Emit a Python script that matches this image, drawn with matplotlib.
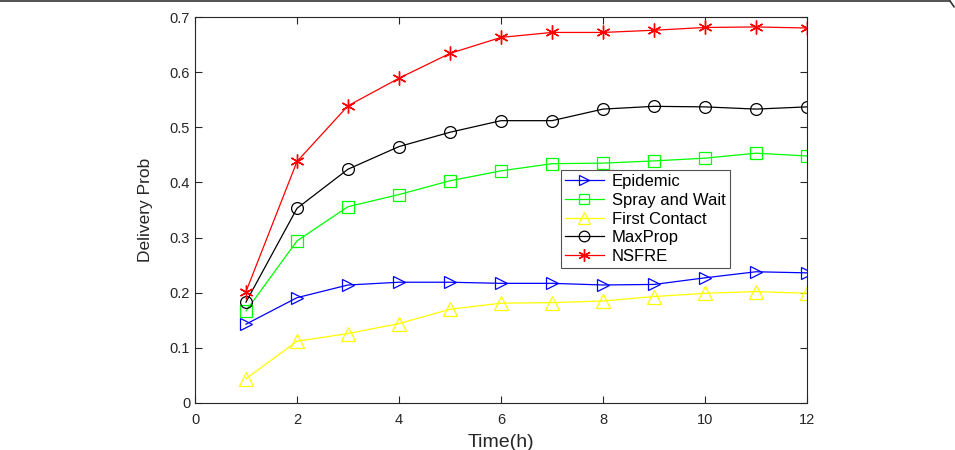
import numpy as np
import matplotlib.pyplot as plt
from matplotlib.lines import Line2D

plt.rcParams['font.family'] = ['Liberation Sans', 'DejaVu Sans']

time_h = [1, 2, 3, 4, 5, 6, 7, 8, 9, 10, 11, 12]

epidemic = [0.143, 0.191, 0.214, 0.219, 0.219, 0.217, 0.217, 0.214, 0.215, 0.227, 0.238, 0.236]
spray_wait = [0.167, 0.294, 0.356, 0.378, 0.403, 0.421, 0.434, 0.435, 0.439, 0.444, 0.453, 0.448]
first_contact = [0.044, 0.112, 0.126, 0.144, 0.170, 0.181, 0.182, 0.185, 0.193, 0.199, 0.202, 0.199]
maxprop = [0.183, 0.353, 0.424, 0.465, 0.491, 0.512, 0.512, 0.533, 0.538, 0.537, 0.533, 0.537]
nsfre = [0.202, 0.438, 0.539, 0.589, 0.634, 0.663, 0.672, 0.672, 0.676, 0.681, 0.682, 0.680]

series = [
    ("Epidemic", epidemic, "#0000ff", ">"),
    ("Spray and Wait", spray_wait, "#00ff00", "s"),
    ("First Contact", first_contact, "#ffff00", "^"),
    ("MaxProp", maxprop, "#000000", "o"),
    ("NSFRE", nsfre, "#ff0000", "*"),
]

fig = plt.figure(figsize=(9.55, 4.5), dpi=100)
ax = fig.add_axes([195 / 955, 47 / 450, 612 / 955, 386 / 450])

for name, vals, col, mk in series:
    if mk == "*":
        # matlab style asterisk
        ax.plot(time_h, vals, "-", color=col, lw=0.9, label=name,
                marker=(6, 2, 0), markersize=10, markeredgewidth=1.0,
                markerfacecolor="none", markeredgecolor=col)
    else:
        ax.plot(time_h, vals, "-", color=col, lw=0.9, label=name,
                marker=mk, markersize=8.5 if mk != "^" else 10,
                markerfacecolor="none", markeredgecolor=col, markeredgewidth=0.9)

ax.set_xlim(0, 12)
ax.set_ylim(0, 0.7)
ax.set_xticks(np.arange(0, 13, 2))
ax.set_yticks(np.arange(0, 0.71, 0.1))
ax.set_yticklabels(["0", "0.1", "0.2", "0.3", "0.4", "0.5", "0.6", "0.7"])
ax.tick_params(direction="in", length=5, width=0.8, labelsize=10.5,
               top=True, right=True, colors="#262626", labelcolor="#262626")
ax.tick_params(axis="x", pad=7)
for sp in ax.spines.values():
    sp.set_linewidth(0.8)
    sp.set_color("#262626")

ax.set_xlabel("Time(h)", fontsize=14, color="#262626", labelpad=5)
ax.set_ylabel("Delivery Prob", fontsize=12.5, color="#262626", labelpad=12)

leg = ax.legend(loc="upper left", bbox_to_anchor=(0.598, 0.604), fontsize=12,
                frameon=True, fancybox=False, edgecolor="#262626",
                handlelength=2.3, handletextpad=0.5, labelspacing=0.22,
                borderpad=0.26, borderaxespad=0, markerscale=0.9)
leg.get_frame().set_linewidth(0.8)

# thin frame line at the top of the image
fig.add_artist(Line2D([0, 0.995], [0.997, 0.997], transform=fig.transFigure,
                      color="#333333", lw=1.2))
fig.add_artist(Line2D([0.995, 0.999], [0.997, 0.985], transform=fig.transFigure,
                      color="#333333", lw=1.2))

fig.savefig("out.png", dpi=100)
